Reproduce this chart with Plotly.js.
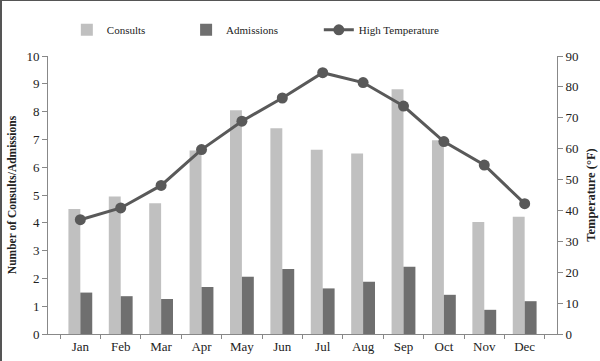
<!DOCTYPE html>
<html>
<head>
<meta charset="utf-8">
<script src="https://cdn.plot.ly/plotly-3.0.1.min.js"></script>
<style>
html,body{margin:0;padding:0;background:#fff;}
#chart{width:600px;height:361px;box-sizing:border-box;border-top:1px solid #555;border-left:2px solid #555;}
</style>
</head>
<body>
<div id="chart"></div>
<script>
const months = ["Jan","Feb","Mar","Apr","May","Jun","Jul","Aug","Sep","Oct","Nov","Dec"];
const consults = [4.5,4.95,4.7,6.6,8.05,7.4,6.63,6.49,8.8,6.97,4.03,4.22];
const admissions = [1.49,1.36,1.26,1.69,2.06,2.34,1.64,1.88,2.42,1.41,0.87,1.18];
const highTemp = [37.0,40.8,48.1,59.7,68.9,76.4,84.6,81.4,73.8,62.3,54.7,42.2];

const pad = n => "\u00a0".repeat(n);
const serif = "'Liberation Serif', 'Times New Roman', serif";
const traces = [
  {type:"bar", name:"Consults" + pad(13), x:months, y:consults, marker:{color:"#c0c0c0"}, yaxis:"y"},
  {type:"bar", name:"Admissions" + pad(13), x:months, y:admissions, marker:{color:"#6f6f6f"}, yaxis:"y"},
  {type:"scatter", mode:"lines+markers", name:"High Temperature", x:months, y:highTemp, yaxis:"y2",
   line:{color:"#595959", width:3}, marker:{color:"#595959", size:11}}
];
const layout = {
  width:598, height:360,
  margin:{l:46, r:43, t:55, b:27},
  paper_bgcolor:"#fff", plot_bgcolor:"#fff",
  font:{family:serif, size:12, color:"#222"},
  barmode:"group", bargap:0.41, bargroupgap:0,
  showlegend:true,
  legend:{orientation:"h", x:0.037, xanchor:"left", y:0.92, yanchor:"middle", yref:"container",
          itemwidth:30, font:{family:serif, size:11, color:"#222"},
          traceorder:"normal"},
  xaxis:{type:"category", showline:true, linecolor:"#888", linewidth:1, ticks:"outside", ticklen:4,
         tickcolor:"#888", tickson:"boundaries", showgrid:false, tickfont:{family:serif, size:13, color:"#222"}},
  yaxis:{range:[0,10], dtick:1, showline:true, linecolor:"#888", ticks:"outside", ticklen:5, tickcolor:"#888",
         showgrid:false, zeroline:false, tickfont:{family:serif, size:13, color:"#222"},
         title:{text:"<b>Number of Consults/Admissions</b>", font:{family:serif, size:11.5, color:"#222"}, standoff:7}},
  yaxis2:{range:[0,90], dtick:10, overlaying:"y", side:"right", showline:true, linecolor:"#888", ticks:"outside",
          ticklen:5, tickcolor:"#888", showgrid:false, zeroline:false, tickfont:{family:serif, size:13, color:"#222"},
          title:{text:"<b>Temperature (°F)</b>", font:{family:serif, size:12.5, color:"#222"}, standoff:8}}
};
Plotly.newPlot("chart", traces, layout, {displayModeBar:false, staticPlot:true});
</script>
</body>
</html>
